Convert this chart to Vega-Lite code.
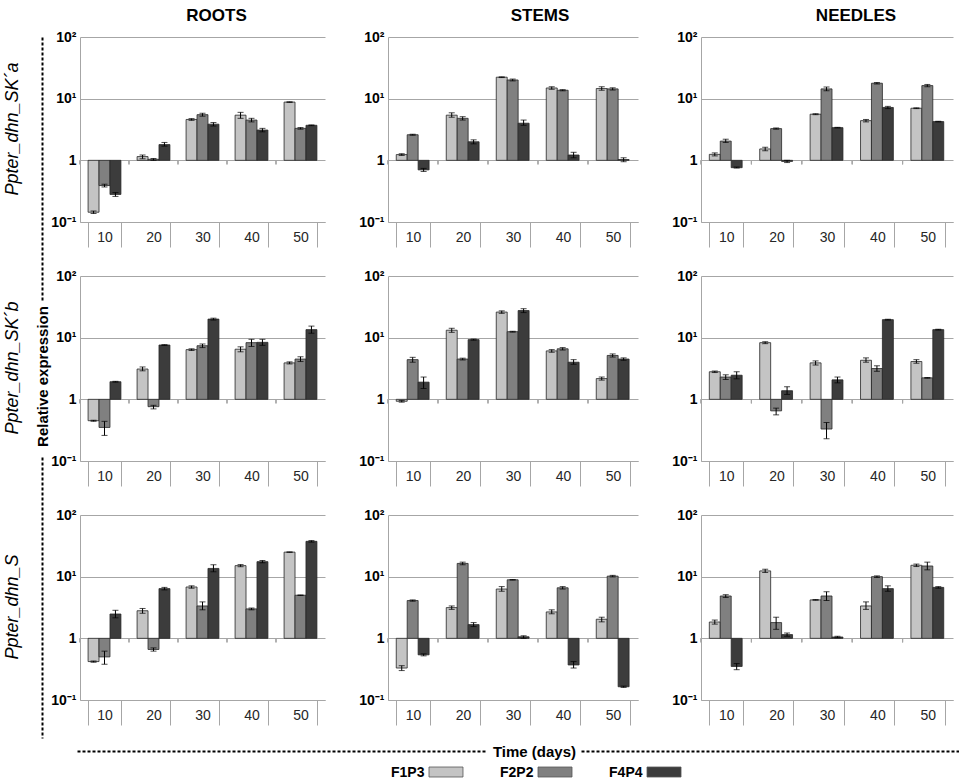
{
  "$schema": "https://vega.github.io/schema/vega-lite/v6.json",
  "padding": {"left": 3, "top": 6, "right": 0, "bottom": 0},
  "config": {
    "font": "Liberation Sans",
    "background": "white",
    "view": {"stroke": null},
    "title": {"fontSize": 17, "fontWeight": "bold", "color": "#000", "offset": 5.5},
    "axisX": {"tickBand": "extent", "tickSize": 25, "tickColor": "#a6a6a6", "domainColor": "#a6a6a6", "labelPadding": -10, "labelBaseline": "middle", "labelFontSize": 14, "labelColor": "#262626", "labelAngle": 0, "grid": false},
    "axisY": {"grid": true, "gridColor": "#a6a6a6", "domainColor": "#a6a6a6", "ticks": false, "labelFontSize": 14, "labelFontWeight": "bold", "labelColor": "#000", "labelPadding": 4}
  },
  "datasets": {
    "keys": [{"series": "F1P3"}, {"series": "F2P2"}, {"series": "F4P4"}],
    "genes": [{"gene": "Ppter_dhn_SK´a"}, {"gene": "Ppter_dhn_SK´b"}, {"gene": "Ppter_dhn_S"}],
    "expr": [
      {"gene":"a","tissue":"R","day":"10","series":"F1P3","v":0.144,"lo":0.137,"hi":0.151},
      {"gene":"a","tissue":"R","day":"10","series":"F2P2","v":0.39,"lo":0.37,"hi":0.41},
      {"gene":"a","tissue":"R","day":"10","series":"F4P4","v":0.28,"lo":0.26,"hi":0.30},
      {"gene":"a","tissue":"R","day":"20","series":"F1P3","v":1.15,"lo":1.06,"hi":1.22},
      {"gene":"a","tissue":"R","day":"20","series":"F2P2","v":1.04,"lo":1.0,"hi":1.07},
      {"gene":"a","tissue":"R","day":"20","series":"F4P4","v":1.8,"lo":1.7,"hi":1.95},
      {"gene":"a","tissue":"R","day":"30","series":"F1P3","v":4.6,"lo":4.45,"hi":4.75},
      {"gene":"a","tissue":"R","day":"30","series":"F2P2","v":5.5,"lo":5.2,"hi":5.8},
      {"gene":"a","tissue":"R","day":"30","series":"F4P4","v":3.86,"lo":3.6,"hi":4.1},
      {"gene":"a","tissue":"R","day":"40","series":"F1P3","v":5.4,"lo":4.8,"hi":6.0},
      {"gene":"a","tissue":"R","day":"40","series":"F2P2","v":4.5,"lo":4.2,"hi":4.8},
      {"gene":"a","tissue":"R","day":"40","series":"F4P4","v":3.1,"lo":2.9,"hi":3.3},
      {"gene":"a","tissue":"R","day":"50","series":"F1P3","v":8.8,"lo":8.7,"hi":8.9},
      {"gene":"a","tissue":"R","day":"50","series":"F2P2","v":3.3,"lo":3.2,"hi":3.4},
      {"gene":"a","tissue":"R","day":"50","series":"F4P4","v":3.7,"lo":3.65,"hi":3.75},
      {"gene":"a","tissue":"St","day":"10","series":"F1P3","v":1.24,"lo":1.2,"hi":1.28},
      {"gene":"a","tissue":"St","day":"10","series":"F2P2","v":2.6,"lo":2.55,"hi":2.65},
      {"gene":"a","tissue":"St","day":"10","series":"F4P4","v":0.7,"lo":0.66,"hi":0.74},
      {"gene":"a","tissue":"St","day":"20","series":"F1P3","v":5.4,"lo":5.0,"hi":5.9},
      {"gene":"a","tissue":"St","day":"20","series":"F2P2","v":4.8,"lo":4.5,"hi":5.1},
      {"gene":"a","tissue":"St","day":"20","series":"F4P4","v":2.0,"lo":1.85,"hi":2.15},
      {"gene":"a","tissue":"St","day":"30","series":"F1P3","v":22.3,"lo":22.0,"hi":22.6},
      {"gene":"a","tissue":"St","day":"30","series":"F2P2","v":20.1,"lo":19.4,"hi":20.8},
      {"gene":"a","tissue":"St","day":"30","series":"F4P4","v":4.0,"lo":3.7,"hi":4.5},
      {"gene":"a","tissue":"St","day":"40","series":"F1P3","v":14.9,"lo":14.2,"hi":15.6},
      {"gene":"a","tissue":"St","day":"40","series":"F2P2","v":13.7,"lo":13.4,"hi":14.0},
      {"gene":"a","tissue":"St","day":"40","series":"F4P4","v":1.22,"lo":1.1,"hi":1.35},
      {"gene":"a","tissue":"St","day":"50","series":"F1P3","v":14.6,"lo":13.7,"hi":15.6},
      {"gene":"a","tissue":"St","day":"50","series":"F2P2","v":14.4,"lo":13.8,"hi":15.0},
      {"gene":"a","tissue":"St","day":"50","series":"F4P4","v":1.03,"lo":0.95,"hi":1.1},
      {"gene":"a","tissue":"N","day":"10","series":"F1P3","v":1.25,"lo":1.18,"hi":1.32},
      {"gene":"a","tissue":"N","day":"10","series":"F2P2","v":2.05,"lo":1.95,"hi":2.2},
      {"gene":"a","tissue":"N","day":"10","series":"F4P4","v":0.76,"lo":0.75,"hi":0.78},
      {"gene":"a","tissue":"N","day":"20","series":"F1P3","v":1.53,"lo":1.43,"hi":1.63},
      {"gene":"a","tissue":"N","day":"20","series":"F2P2","v":3.27,"lo":3.2,"hi":3.35},
      {"gene":"a","tissue":"N","day":"20","series":"F4P4","v":0.96,"lo":0.92,"hi":1.0},
      {"gene":"a","tissue":"N","day":"30","series":"F1P3","v":5.6,"lo":5.5,"hi":5.7},
      {"gene":"a","tissue":"N","day":"30","series":"F2P2","v":14.4,"lo":13.4,"hi":15.4},
      {"gene":"a","tissue":"N","day":"30","series":"F4P4","v":3.39,"lo":3.35,"hi":3.43},
      {"gene":"a","tissue":"N","day":"40","series":"F1P3","v":4.4,"lo":4.2,"hi":4.6},
      {"gene":"a","tissue":"N","day":"40","series":"F2P2","v":17.8,"lo":17.3,"hi":18.3},
      {"gene":"a","tissue":"N","day":"40","series":"F4P4","v":7.2,"lo":6.9,"hi":7.5},
      {"gene":"a","tissue":"N","day":"50","series":"F1P3","v":7.0,"lo":6.9,"hi":7.1},
      {"gene":"a","tissue":"N","day":"50","series":"F2P2","v":16.3,"lo":15.6,"hi":17.0},
      {"gene":"a","tissue":"N","day":"50","series":"F4P4","v":4.25,"lo":4.2,"hi":4.3},
      {"gene":"b","tissue":"R","day":"10","series":"F1P3","v":0.45,"lo":0.44,"hi":0.46},
      {"gene":"b","tissue":"R","day":"10","series":"F2P2","v":0.35,"lo":0.26,"hi":0.44},
      {"gene":"b","tissue":"R","day":"10","series":"F4P4","v":1.93,"lo":1.9,"hi":1.96},
      {"gene":"b","tissue":"R","day":"20","series":"F1P3","v":3.1,"lo":2.9,"hi":3.35},
      {"gene":"b","tissue":"R","day":"20","series":"F2P2","v":0.76,"lo":0.7,"hi":0.8},
      {"gene":"b","tissue":"R","day":"20","series":"F4P4","v":7.6,"lo":7.5,"hi":7.7},
      {"gene":"b","tissue":"R","day":"30","series":"F1P3","v":6.4,"lo":6.2,"hi":6.6},
      {"gene":"b","tissue":"R","day":"30","series":"F2P2","v":7.4,"lo":6.9,"hi":7.9},
      {"gene":"b","tissue":"R","day":"30","series":"F4P4","v":20,"lo":19.3,"hi":20.7},
      {"gene":"b","tissue":"R","day":"40","series":"F1P3","v":6.5,"lo":5.9,"hi":7.1},
      {"gene":"b","tissue":"R","day":"40","series":"F2P2","v":8.3,"lo":7.2,"hi":9.4},
      {"gene":"b","tissue":"R","day":"40","series":"F4P4","v":8.4,"lo":7.5,"hi":9.4},
      {"gene":"b","tissue":"R","day":"50","series":"F1P3","v":3.9,"lo":3.75,"hi":4.05},
      {"gene":"b","tissue":"R","day":"50","series":"F2P2","v":4.5,"lo":4.1,"hi":4.9},
      {"gene":"b","tissue":"R","day":"50","series":"F4P4","v":13.5,"lo":11.8,"hi":15.4},
      {"gene":"b","tissue":"St","day":"10","series":"F1P3","v":0.93,"lo":0.9,"hi":0.96},
      {"gene":"b","tissue":"St","day":"10","series":"F2P2","v":4.4,"lo":4.0,"hi":4.8},
      {"gene":"b","tissue":"St","day":"10","series":"F4P4","v":1.9,"lo":1.5,"hi":2.3},
      {"gene":"b","tissue":"St","day":"20","series":"F1P3","v":13.2,"lo":12.2,"hi":14.2},
      {"gene":"b","tissue":"St","day":"20","series":"F2P2","v":4.5,"lo":4.35,"hi":4.65},
      {"gene":"b","tissue":"St","day":"20","series":"F4P4","v":9.3,"lo":9.1,"hi":9.5},
      {"gene":"b","tissue":"St","day":"30","series":"F1P3","v":26,"lo":24.8,"hi":27.2},
      {"gene":"b","tissue":"St","day":"30","series":"F2P2","v":12.5,"lo":12.3,"hi":12.7},
      {"gene":"b","tissue":"St","day":"30","series":"F4P4","v":27.5,"lo":25.5,"hi":29.5},
      {"gene":"b","tissue":"St","day":"40","series":"F1P3","v":6.1,"lo":5.8,"hi":6.4},
      {"gene":"b","tissue":"St","day":"40","series":"F2P2","v":6.6,"lo":6.3,"hi":6.9},
      {"gene":"b","tissue":"St","day":"40","series":"F4P4","v":4.0,"lo":3.7,"hi":4.4},
      {"gene":"b","tissue":"St","day":"50","series":"F1P3","v":2.17,"lo":2.05,"hi":2.3},
      {"gene":"b","tissue":"St","day":"50","series":"F2P2","v":5.15,"lo":4.85,"hi":5.45},
      {"gene":"b","tissue":"St","day":"50","series":"F4P4","v":4.5,"lo":4.3,"hi":4.7},
      {"gene":"b","tissue":"N","day":"10","series":"F1P3","v":2.8,"lo":2.72,"hi":2.88},
      {"gene":"b","tissue":"N","day":"10","series":"F2P2","v":2.3,"lo":2.1,"hi":2.5},
      {"gene":"b","tissue":"N","day":"10","series":"F4P4","v":2.46,"lo":2.15,"hi":2.8},
      {"gene":"b","tissue":"N","day":"20","series":"F1P3","v":8.3,"lo":8.0,"hi":8.6},
      {"gene":"b","tissue":"N","day":"20","series":"F2P2","v":0.65,"lo":0.56,"hi":0.72},
      {"gene":"b","tissue":"N","day":"20","series":"F4P4","v":1.38,"lo":1.2,"hi":1.6},
      {"gene":"b","tissue":"N","day":"30","series":"F1P3","v":3.9,"lo":3.6,"hi":4.2},
      {"gene":"b","tissue":"N","day":"30","series":"F2P2","v":0.33,"lo":0.23,"hi":0.42},
      {"gene":"b","tissue":"N","day":"30","series":"F4P4","v":2.07,"lo":1.85,"hi":2.3},
      {"gene":"b","tissue":"N","day":"40","series":"F1P3","v":4.3,"lo":4.0,"hi":4.7},
      {"gene":"b","tissue":"N","day":"40","series":"F2P2","v":3.16,"lo":2.85,"hi":3.5},
      {"gene":"b","tissue":"N","day":"40","series":"F4P4","v":19.6,"lo":19.3,"hi":19.9},
      {"gene":"b","tissue":"N","day":"50","series":"F1P3","v":4.1,"lo":3.85,"hi":4.4},
      {"gene":"b","tissue":"N","day":"50","series":"F2P2","v":2.23,"lo":2.2,"hi":2.26},
      {"gene":"b","tissue":"N","day":"50","series":"F4P4","v":13.5,"lo":13.3,"hi":13.7},
      {"gene":"S","tissue":"R","day":"10","series":"F1P3","v":0.42,"lo":0.41,"hi":0.43},
      {"gene":"S","tissue":"R","day":"10","series":"F2P2","v":0.5,"lo":0.38,"hi":0.62},
      {"gene":"S","tissue":"R","day":"10","series":"F4P4","v":2.48,"lo":2.15,"hi":2.85},
      {"gene":"S","tissue":"R","day":"20","series":"F1P3","v":2.8,"lo":2.55,"hi":3.05},
      {"gene":"S","tissue":"R","day":"20","series":"F2P2","v":0.66,"lo":0.62,"hi":0.7},
      {"gene":"S","tissue":"R","day":"20","series":"F4P4","v":6.4,"lo":6.1,"hi":6.7},
      {"gene":"S","tissue":"R","day":"30","series":"F1P3","v":6.8,"lo":6.5,"hi":7.1},
      {"gene":"S","tissue":"R","day":"30","series":"F2P2","v":3.35,"lo":2.9,"hi":3.9},
      {"gene":"S","tissue":"R","day":"30","series":"F4P4","v":13.6,"lo":12.0,"hi":15.6},
      {"gene":"S","tissue":"R","day":"40","series":"F1P3","v":15.1,"lo":14.5,"hi":15.7},
      {"gene":"S","tissue":"R","day":"40","series":"F2P2","v":3.0,"lo":2.9,"hi":3.1},
      {"gene":"S","tissue":"R","day":"40","series":"F4P4","v":17.5,"lo":16.8,"hi":18.3},
      {"gene":"S","tissue":"R","day":"50","series":"F1P3","v":25,"lo":24.8,"hi":25.2},
      {"gene":"S","tissue":"R","day":"50","series":"F2P2","v":5.0,"lo":4.95,"hi":5.05},
      {"gene":"S","tissue":"R","day":"50","series":"F4P4","v":37.4,"lo":36.3,"hi":38.5},
      {"gene":"S","tissue":"St","day":"10","series":"F1P3","v":0.33,"lo":0.3,"hi":0.36},
      {"gene":"S","tissue":"St","day":"10","series":"F2P2","v":4.1,"lo":4.0,"hi":4.2},
      {"gene":"S","tissue":"St","day":"10","series":"F4P4","v":0.54,"lo":0.52,"hi":0.56},
      {"gene":"S","tissue":"St","day":"20","series":"F1P3","v":3.15,"lo":2.95,"hi":3.35},
      {"gene":"S","tissue":"St","day":"20","series":"F2P2","v":16.4,"lo":15.6,"hi":17.2},
      {"gene":"S","tissue":"St","day":"20","series":"F4P4","v":1.67,"lo":1.55,"hi":1.8},
      {"gene":"S","tissue":"St","day":"30","series":"F1P3","v":6.3,"lo":5.8,"hi":6.9},
      {"gene":"S","tissue":"St","day":"30","series":"F2P2","v":8.9,"lo":8.8,"hi":9.0},
      {"gene":"S","tissue":"St","day":"30","series":"F4P4","v":1.06,"lo":1.0,"hi":1.1},
      {"gene":"S","tissue":"St","day":"40","series":"F1P3","v":2.68,"lo":2.5,"hi":2.9},
      {"gene":"S","tissue":"St","day":"40","series":"F2P2","v":6.6,"lo":6.3,"hi":6.9},
      {"gene":"S","tissue":"St","day":"40","series":"F4P4","v":0.37,"lo":0.33,"hi":0.42},
      {"gene":"S","tissue":"St","day":"50","series":"F1P3","v":2.04,"lo":1.85,"hi":2.2},
      {"gene":"S","tissue":"St","day":"50","series":"F2P2","v":10.2,"lo":9.9,"hi":10.5},
      {"gene":"S","tissue":"St","day":"50","series":"F4P4","v":0.164,"lo":0.16,"hi":0.168},
      {"gene":"S","tissue":"N","day":"10","series":"F1P3","v":1.84,"lo":1.7,"hi":1.98},
      {"gene":"S","tissue":"N","day":"10","series":"F2P2","v":4.86,"lo":4.6,"hi":5.1},
      {"gene":"S","tissue":"N","day":"10","series":"F4P4","v":0.35,"lo":0.31,"hi":0.39},
      {"gene":"S","tissue":"N","day":"20","series":"F1P3","v":12.4,"lo":11.7,"hi":13.2},
      {"gene":"S","tissue":"N","day":"20","series":"F2P2","v":1.8,"lo":1.4,"hi":2.2},
      {"gene":"S","tissue":"N","day":"20","series":"F4P4","v":1.15,"lo":1.08,"hi":1.22},
      {"gene":"S","tissue":"N","day":"30","series":"F1P3","v":4.2,"lo":4.15,"hi":4.25},
      {"gene":"S","tissue":"N","day":"30","series":"F2P2","v":4.86,"lo":4.1,"hi":5.7},
      {"gene":"S","tissue":"N","day":"30","series":"F4P4","v":1.05,"lo":1.02,"hi":1.08},
      {"gene":"S","tissue":"N","day":"40","series":"F1P3","v":3.35,"lo":2.95,"hi":3.9},
      {"gene":"S","tissue":"N","day":"40","series":"F2P2","v":10.0,"lo":9.7,"hi":10.3},
      {"gene":"S","tissue":"N","day":"40","series":"F4P4","v":6.4,"lo":5.8,"hi":7.1},
      {"gene":"S","tissue":"N","day":"50","series":"F1P3","v":15.3,"lo":14.6,"hi":16.0},
      {"gene":"S","tissue":"N","day":"50","series":"F2P2","v":14.9,"lo":12.9,"hi":17.2},
      {"gene":"S","tissue":"N","day":"50","series":"F4P4","v":6.7,"lo":6.5,"hi":6.9}
    ]
  },
  "spacing": 6,
  "vconcat": [
    {
      "spacing": 0,
      "hconcat": [
        {
          "width": 1,
          "height": 701,
          "data": {"name": "genes"},
          "mark": {"type": "point", "opacity": 0},
          "encoding": {
            "y": {"field": "gene", "type": "nominal", "sort": null,
                  "scale": {"type": "point", "padding": 0.4665},
                  "axis": {
                    "ticks": false, "tickSize": 0, "grid": false,
                    "labelAngle": -90, "labelAlign": "center", "labelBaseline": "middle", "labelPadding": 30, "labelOffset": -20,
                    "labelFontSize": 18, "labelFontStyle": "italic", "labelFontWeight": "normal", "labelColor": "#000", "labelLimit": 300,
                    "domainColor": "#000", "domainWidth": 2,
                    "domainDash": [3,2,3,2,3,2,3,2,3,2,3,2,3,2,3,2,3,2,3,2, 3,2,3,2,3,2,3,2,3,2,3,2,3,2,3,2,3,2,3,2, 3,2,3,2,3,2,3,2,3,2,3,2,3,2,3,2,3,2,3,2, 3,2,3,2,3,2,3,2,3,2,3,2,3,2,3,2,3,2,3,2, 3,2,3,2,3,2,3,2,3,2,3,2,3,2,3,2,3,2,3,2, 3,2,3,2,3,2, 0,155, 3,2,3,2,3,2,3,2,3,2,3,2,3,2,3,2,3,2,3,2, 3,2,3,2,3,2,3,2,3,2,3,2,3,2,3,2,3,2,3,2, 3,2,3,2,3,2,3,2,3,2,3,2,3,2,3,2,3,2,3,2, 3,2,3,2,3,2,3,2,3,2,3,2,3,2,3,2,3,2,3,2, 3,2,3,2,3,2,3,2,3,2,3,2,3,2,3,2,3,2,3,2, 3,2,3,2,3,2,3,2,3,2,3,2,3,2],
                    "title": "Relative expression", "titleX": 0, "titleY": 339, "titleAngle": -90,
                    "titleAlign": "center", "titleBaseline": "middle",
                    "titleFontSize": 15, "titleFontWeight": "bold", "titleColor": "#000"
                  }}
          }
        },
        {
          "columns": 3,
          "bounds": "flush",
          "spacing": {"row": 54, "column": 63},
          "concat": [
            {
              "width": 245, "height": 185,
              "title": {"text": "ROOTS", "frame": "group", "dx": 14},
              "data": {"name": "expr"},
              "transform": [{"filter": "datum.gene == 'a' && datum.tissue == 'R'"}],
              "encoding": {
                "x": {"field": "day", "type": "ordinal", "scale": {"paddingInner": 0.33, "paddingOuter": 0.165}, "axis": {"title": null}}
              },
              "layer": [
                {"mark": {"type": "bar", "stroke": "#262626", "strokeWidth": 0.8},
                 "encoding": {
                   "xOffset": {"field": "series", "type": "nominal", "sort": ["F1P3", "F2P2", "F4P4"], "scale": {"paddingInner": 0, "paddingOuter": 0}},
                   "y": {"field": "v", "type": "quantitative", "scale": {"type": "log", "domain": [0.1, 100], "nice": false},
                         "axis": {"title": null, "values": [0.1, 1, 10, 100], "labelExpr": "datum.value >= 100 ? '10²' : datum.value >= 10 ? '10¹' : datum.value >= 1 ? '1' : '10⁻¹'"}},
                   "y2": {"datum": 1},
                   "fill": {"field": "series", "type": "nominal", "scale": {"domain": ["F1P3", "F2P2", "F4P4"], "range": ["#c4c4c4", "#808080", "#3c3c3c"]}, "legend": null}
                 }},
                {"mark": {"type": "rule", "color": "#000", "strokeWidth": 1},
                 "encoding": {"xOffset": {"field": "series", "type": "nominal", "sort": ["F1P3", "F2P2", "F4P4"]}, "y": {"field": "lo", "type": "quantitative", "scale": {"type": "log", "domain": [0.1, 100], "nice": false}}, "y2": {"field": "hi"}}},
                {"mark": {"type": "tick", "color": "#000", "size": 6, "thickness": 1},
                 "encoding": {"xOffset": {"field": "series", "type": "nominal", "sort": ["F1P3", "F2P2", "F4P4"]}, "y": {"field": "lo", "type": "quantitative", "scale": {"type": "log", "domain": [0.1, 100], "nice": false}}}},
                {"mark": {"type": "tick", "color": "#000", "size": 6, "thickness": 1},
                 "encoding": {"xOffset": {"field": "series", "type": "nominal", "sort": ["F1P3", "F2P2", "F4P4"]}, "y": {"field": "hi", "type": "quantitative", "scale": {"type": "log", "domain": [0.1, 100], "nice": false}}}},
                {"mark": {"type": "rule", "color": "#a6a6a6", "strokeWidth": 1},
                 "encoding": {"x": {"field": "day", "type": "ordinal", "bandPosition": -0.2463}, "y": {"datum": 1, "type": "quantitative", "scale": {"type": "log", "domain": [0.1, 100], "nice": false}}, "y2": {"datum": 0.86}}}
              ]
            },
            {
              "width": 250, "height": 185,
              "title": {"text": "STEMS", "frame": "group", "dx": 27},
              "data": {"name": "expr"},
              "transform": [{"filter": "datum.gene == 'a' && datum.tissue == 'St'"}],
              "encoding": {
                "x": {"field": "day", "type": "ordinal", "scale": {"paddingInner": 0.33, "paddingOuter": 0.165}, "axis": {"title": null}}
              },
              "layer": [
                {"mark": {"type": "bar", "stroke": "#262626", "strokeWidth": 0.8},
                 "encoding": {
                   "xOffset": {"field": "series", "type": "nominal", "sort": ["F1P3", "F2P2", "F4P4"], "scale": {"paddingInner": 0, "paddingOuter": 0}},
                   "y": {"field": "v", "type": "quantitative", "scale": {"type": "log", "domain": [0.1, 100], "nice": false},
                         "axis": {"title": null, "values": [0.1, 1, 10, 100], "labelExpr": "datum.value >= 100 ? '10²' : datum.value >= 10 ? '10¹' : datum.value >= 1 ? '1' : '10⁻¹'"}},
                   "y2": {"datum": 1},
                   "fill": {"field": "series", "type": "nominal", "scale": {"domain": ["F1P3", "F2P2", "F4P4"], "range": ["#c4c4c4", "#808080", "#3c3c3c"]}, "legend": null}
                 }},
                {"mark": {"type": "rule", "color": "#000", "strokeWidth": 1},
                 "encoding": {"xOffset": {"field": "series", "type": "nominal", "sort": ["F1P3", "F2P2", "F4P4"]}, "y": {"field": "lo", "type": "quantitative", "scale": {"type": "log", "domain": [0.1, 100], "nice": false}}, "y2": {"field": "hi"}}},
                {"mark": {"type": "tick", "color": "#000", "size": 6, "thickness": 1},
                 "encoding": {"xOffset": {"field": "series", "type": "nominal", "sort": ["F1P3", "F2P2", "F4P4"]}, "y": {"field": "lo", "type": "quantitative", "scale": {"type": "log", "domain": [0.1, 100], "nice": false}}}},
                {"mark": {"type": "tick", "color": "#000", "size": 6, "thickness": 1},
                 "encoding": {"xOffset": {"field": "series", "type": "nominal", "sort": ["F1P3", "F2P2", "F4P4"]}, "y": {"field": "hi", "type": "quantitative", "scale": {"type": "log", "domain": [0.1, 100], "nice": false}}}},
                {"mark": {"type": "rule", "color": "#a6a6a6", "strokeWidth": 1},
                 "encoding": {"x": {"field": "day", "type": "ordinal", "bandPosition": -0.2463}, "y": {"datum": 1, "type": "quantitative", "scale": {"type": "log", "domain": [0.1, 100], "nice": false}}, "y2": {"datum": 0.86}}}
              ]
            },
            {
              "width": 252, "height": 185,
              "title": {"text": "NEEDLES", "frame": "group", "dx": 29},
              "data": {"name": "expr"},
              "transform": [{"filter": "datum.gene == 'a' && datum.tissue == 'N'"}],
              "encoding": {
                "x": {"field": "day", "type": "ordinal", "scale": {"paddingInner": 0.33, "paddingOuter": 0.165}, "axis": {"title": null}}
              },
              "layer": [
                {"mark": {"type": "bar", "stroke": "#262626", "strokeWidth": 0.8},
                 "encoding": {
                   "xOffset": {"field": "series", "type": "nominal", "sort": ["F1P3", "F2P2", "F4P4"], "scale": {"paddingInner": 0, "paddingOuter": 0}},
                   "y": {"field": "v", "type": "quantitative", "scale": {"type": "log", "domain": [0.1, 100], "nice": false},
                         "axis": {"title": null, "values": [0.1, 1, 10, 100], "labelExpr": "datum.value >= 100 ? '10²' : datum.value >= 10 ? '10¹' : datum.value >= 1 ? '1' : '10⁻¹'"}},
                   "y2": {"datum": 1},
                   "fill": {"field": "series", "type": "nominal", "scale": {"domain": ["F1P3", "F2P2", "F4P4"], "range": ["#c4c4c4", "#808080", "#3c3c3c"]}, "legend": null}
                 }},
                {"mark": {"type": "rule", "color": "#000", "strokeWidth": 1},
                 "encoding": {"xOffset": {"field": "series", "type": "nominal", "sort": ["F1P3", "F2P2", "F4P4"]}, "y": {"field": "lo", "type": "quantitative", "scale": {"type": "log", "domain": [0.1, 100], "nice": false}}, "y2": {"field": "hi"}}},
                {"mark": {"type": "tick", "color": "#000", "size": 6, "thickness": 1},
                 "encoding": {"xOffset": {"field": "series", "type": "nominal", "sort": ["F1P3", "F2P2", "F4P4"]}, "y": {"field": "lo", "type": "quantitative", "scale": {"type": "log", "domain": [0.1, 100], "nice": false}}}},
                {"mark": {"type": "tick", "color": "#000", "size": 6, "thickness": 1},
                 "encoding": {"xOffset": {"field": "series", "type": "nominal", "sort": ["F1P3", "F2P2", "F4P4"]}, "y": {"field": "hi", "type": "quantitative", "scale": {"type": "log", "domain": [0.1, 100], "nice": false}}}},
                {"mark": {"type": "rule", "color": "#a6a6a6", "strokeWidth": 1},
                 "encoding": {"x": {"field": "day", "type": "ordinal", "bandPosition": -0.2463}, "y": {"datum": 1, "type": "quantitative", "scale": {"type": "log", "domain": [0.1, 100], "nice": false}}, "y2": {"datum": 0.86}}}
              ]
            },
            {
              "width": 245, "height": 185,
              "data": {"name": "expr"},
              "transform": [{"filter": "datum.gene == 'b' && datum.tissue == 'R'"}],
              "encoding": {
                "x": {"field": "day", "type": "ordinal", "scale": {"paddingInner": 0.33, "paddingOuter": 0.165}, "axis": {"title": null}}
              },
              "layer": [
                {"mark": {"type": "bar", "stroke": "#262626", "strokeWidth": 0.8},
                 "encoding": {
                   "xOffset": {"field": "series", "type": "nominal", "sort": ["F1P3", "F2P2", "F4P4"], "scale": {"paddingInner": 0, "paddingOuter": 0}},
                   "y": {"field": "v", "type": "quantitative", "scale": {"type": "log", "domain": [0.1, 100], "nice": false},
                         "axis": {"title": null, "values": [0.1, 1, 10, 100], "labelExpr": "datum.value >= 100 ? '10²' : datum.value >= 10 ? '10¹' : datum.value >= 1 ? '1' : '10⁻¹'"}},
                   "y2": {"datum": 1},
                   "fill": {"field": "series", "type": "nominal", "scale": {"domain": ["F1P3", "F2P2", "F4P4"], "range": ["#c4c4c4", "#808080", "#3c3c3c"]}, "legend": null}
                 }},
                {"mark": {"type": "rule", "color": "#000", "strokeWidth": 1},
                 "encoding": {"xOffset": {"field": "series", "type": "nominal", "sort": ["F1P3", "F2P2", "F4P4"]}, "y": {"field": "lo", "type": "quantitative", "scale": {"type": "log", "domain": [0.1, 100], "nice": false}}, "y2": {"field": "hi"}}},
                {"mark": {"type": "tick", "color": "#000", "size": 6, "thickness": 1},
                 "encoding": {"xOffset": {"field": "series", "type": "nominal", "sort": ["F1P3", "F2P2", "F4P4"]}, "y": {"field": "lo", "type": "quantitative", "scale": {"type": "log", "domain": [0.1, 100], "nice": false}}}},
                {"mark": {"type": "tick", "color": "#000", "size": 6, "thickness": 1},
                 "encoding": {"xOffset": {"field": "series", "type": "nominal", "sort": ["F1P3", "F2P2", "F4P4"]}, "y": {"field": "hi", "type": "quantitative", "scale": {"type": "log", "domain": [0.1, 100], "nice": false}}}},
                {"mark": {"type": "rule", "color": "#a6a6a6", "strokeWidth": 1},
                 "encoding": {"x": {"field": "day", "type": "ordinal", "bandPosition": -0.2463}, "y": {"datum": 1, "type": "quantitative", "scale": {"type": "log", "domain": [0.1, 100], "nice": false}}, "y2": {"datum": 0.86}}}
              ]
            },
            {
              "width": 250, "height": 185,
              "data": {"name": "expr"},
              "transform": [{"filter": "datum.gene == 'b' && datum.tissue == 'St'"}],
              "encoding": {
                "x": {"field": "day", "type": "ordinal", "scale": {"paddingInner": 0.33, "paddingOuter": 0.165}, "axis": {"title": null}}
              },
              "layer": [
                {"mark": {"type": "bar", "stroke": "#262626", "strokeWidth": 0.8},
                 "encoding": {
                   "xOffset": {"field": "series", "type": "nominal", "sort": ["F1P3", "F2P2", "F4P4"], "scale": {"paddingInner": 0, "paddingOuter": 0}},
                   "y": {"field": "v", "type": "quantitative", "scale": {"type": "log", "domain": [0.1, 100], "nice": false},
                         "axis": {"title": null, "values": [0.1, 1, 10, 100], "labelExpr": "datum.value >= 100 ? '10²' : datum.value >= 10 ? '10¹' : datum.value >= 1 ? '1' : '10⁻¹'"}},
                   "y2": {"datum": 1},
                   "fill": {"field": "series", "type": "nominal", "scale": {"domain": ["F1P3", "F2P2", "F4P4"], "range": ["#c4c4c4", "#808080", "#3c3c3c"]}, "legend": null}
                 }},
                {"mark": {"type": "rule", "color": "#000", "strokeWidth": 1},
                 "encoding": {"xOffset": {"field": "series", "type": "nominal", "sort": ["F1P3", "F2P2", "F4P4"]}, "y": {"field": "lo", "type": "quantitative", "scale": {"type": "log", "domain": [0.1, 100], "nice": false}}, "y2": {"field": "hi"}}},
                {"mark": {"type": "tick", "color": "#000", "size": 6, "thickness": 1},
                 "encoding": {"xOffset": {"field": "series", "type": "nominal", "sort": ["F1P3", "F2P2", "F4P4"]}, "y": {"field": "lo", "type": "quantitative", "scale": {"type": "log", "domain": [0.1, 100], "nice": false}}}},
                {"mark": {"type": "tick", "color": "#000", "size": 6, "thickness": 1},
                 "encoding": {"xOffset": {"field": "series", "type": "nominal", "sort": ["F1P3", "F2P2", "F4P4"]}, "y": {"field": "hi", "type": "quantitative", "scale": {"type": "log", "domain": [0.1, 100], "nice": false}}}},
                {"mark": {"type": "rule", "color": "#a6a6a6", "strokeWidth": 1},
                 "encoding": {"x": {"field": "day", "type": "ordinal", "bandPosition": -0.2463}, "y": {"datum": 1, "type": "quantitative", "scale": {"type": "log", "domain": [0.1, 100], "nice": false}}, "y2": {"datum": 0.86}}}
              ]
            },
            {
              "width": 252, "height": 185,
              "data": {"name": "expr"},
              "transform": [{"filter": "datum.gene == 'b' && datum.tissue == 'N'"}],
              "encoding": {
                "x": {"field": "day", "type": "ordinal", "scale": {"paddingInner": 0.33, "paddingOuter": 0.165}, "axis": {"title": null}}
              },
              "layer": [
                {"mark": {"type": "bar", "stroke": "#262626", "strokeWidth": 0.8},
                 "encoding": {
                   "xOffset": {"field": "series", "type": "nominal", "sort": ["F1P3", "F2P2", "F4P4"], "scale": {"paddingInner": 0, "paddingOuter": 0}},
                   "y": {"field": "v", "type": "quantitative", "scale": {"type": "log", "domain": [0.1, 100], "nice": false},
                         "axis": {"title": null, "values": [0.1, 1, 10, 100], "labelExpr": "datum.value >= 100 ? '10²' : datum.value >= 10 ? '10¹' : datum.value >= 1 ? '1' : '10⁻¹'"}},
                   "y2": {"datum": 1},
                   "fill": {"field": "series", "type": "nominal", "scale": {"domain": ["F1P3", "F2P2", "F4P4"], "range": ["#c4c4c4", "#808080", "#3c3c3c"]}, "legend": null}
                 }},
                {"mark": {"type": "rule", "color": "#000", "strokeWidth": 1},
                 "encoding": {"xOffset": {"field": "series", "type": "nominal", "sort": ["F1P3", "F2P2", "F4P4"]}, "y": {"field": "lo", "type": "quantitative", "scale": {"type": "log", "domain": [0.1, 100], "nice": false}}, "y2": {"field": "hi"}}},
                {"mark": {"type": "tick", "color": "#000", "size": 6, "thickness": 1},
                 "encoding": {"xOffset": {"field": "series", "type": "nominal", "sort": ["F1P3", "F2P2", "F4P4"]}, "y": {"field": "lo", "type": "quantitative", "scale": {"type": "log", "domain": [0.1, 100], "nice": false}}}},
                {"mark": {"type": "tick", "color": "#000", "size": 6, "thickness": 1},
                 "encoding": {"xOffset": {"field": "series", "type": "nominal", "sort": ["F1P3", "F2P2", "F4P4"]}, "y": {"field": "hi", "type": "quantitative", "scale": {"type": "log", "domain": [0.1, 100], "nice": false}}}},
                {"mark": {"type": "rule", "color": "#a6a6a6", "strokeWidth": 1},
                 "encoding": {"x": {"field": "day", "type": "ordinal", "bandPosition": -0.2463}, "y": {"datum": 1, "type": "quantitative", "scale": {"type": "log", "domain": [0.1, 100], "nice": false}}, "y2": {"datum": 0.86}}}
              ]
            },
            {
              "width": 245, "height": 185,
              "data": {"name": "expr"},
              "transform": [{"filter": "datum.gene == 'S' && datum.tissue == 'R'"}],
              "encoding": {
                "x": {"field": "day", "type": "ordinal", "scale": {"paddingInner": 0.33, "paddingOuter": 0.165}, "axis": {"title": null}}
              },
              "layer": [
                {"mark": {"type": "bar", "stroke": "#262626", "strokeWidth": 0.8},
                 "encoding": {
                   "xOffset": {"field": "series", "type": "nominal", "sort": ["F1P3", "F2P2", "F4P4"], "scale": {"paddingInner": 0, "paddingOuter": 0}},
                   "y": {"field": "v", "type": "quantitative", "scale": {"type": "log", "domain": [0.1, 100], "nice": false},
                         "axis": {"title": null, "values": [0.1, 1, 10, 100], "labelExpr": "datum.value >= 100 ? '10²' : datum.value >= 10 ? '10¹' : datum.value >= 1 ? '1' : '10⁻¹'"}},
                   "y2": {"datum": 1},
                   "fill": {"field": "series", "type": "nominal", "scale": {"domain": ["F1P3", "F2P2", "F4P4"], "range": ["#c4c4c4", "#808080", "#3c3c3c"]}, "legend": null}
                 }},
                {"mark": {"type": "rule", "color": "#000", "strokeWidth": 1},
                 "encoding": {"xOffset": {"field": "series", "type": "nominal", "sort": ["F1P3", "F2P2", "F4P4"]}, "y": {"field": "lo", "type": "quantitative", "scale": {"type": "log", "domain": [0.1, 100], "nice": false}}, "y2": {"field": "hi"}}},
                {"mark": {"type": "tick", "color": "#000", "size": 6, "thickness": 1},
                 "encoding": {"xOffset": {"field": "series", "type": "nominal", "sort": ["F1P3", "F2P2", "F4P4"]}, "y": {"field": "lo", "type": "quantitative", "scale": {"type": "log", "domain": [0.1, 100], "nice": false}}}},
                {"mark": {"type": "tick", "color": "#000", "size": 6, "thickness": 1},
                 "encoding": {"xOffset": {"field": "series", "type": "nominal", "sort": ["F1P3", "F2P2", "F4P4"]}, "y": {"field": "hi", "type": "quantitative", "scale": {"type": "log", "domain": [0.1, 100], "nice": false}}}},
                {"mark": {"type": "rule", "color": "#a6a6a6", "strokeWidth": 1},
                 "encoding": {"x": {"field": "day", "type": "ordinal", "bandPosition": -0.2463}, "y": {"datum": 1, "type": "quantitative", "scale": {"type": "log", "domain": [0.1, 100], "nice": false}}, "y2": {"datum": 0.86}}}
              ]
            },
            {
              "width": 250, "height": 185,
              "data": {"name": "expr"},
              "transform": [{"filter": "datum.gene == 'S' && datum.tissue == 'St'"}],
              "encoding": {
                "x": {"field": "day", "type": "ordinal", "scale": {"paddingInner": 0.33, "paddingOuter": 0.165}, "axis": {"title": null}}
              },
              "layer": [
                {"mark": {"type": "bar", "stroke": "#262626", "strokeWidth": 0.8},
                 "encoding": {
                   "xOffset": {"field": "series", "type": "nominal", "sort": ["F1P3", "F2P2", "F4P4"], "scale": {"paddingInner": 0, "paddingOuter": 0}},
                   "y": {"field": "v", "type": "quantitative", "scale": {"type": "log", "domain": [0.1, 100], "nice": false},
                         "axis": {"title": null, "values": [0.1, 1, 10, 100], "labelExpr": "datum.value >= 100 ? '10²' : datum.value >= 10 ? '10¹' : datum.value >= 1 ? '1' : '10⁻¹'"}},
                   "y2": {"datum": 1},
                   "fill": {"field": "series", "type": "nominal", "scale": {"domain": ["F1P3", "F2P2", "F4P4"], "range": ["#c4c4c4", "#808080", "#3c3c3c"]}, "legend": null}
                 }},
                {"mark": {"type": "rule", "color": "#000", "strokeWidth": 1},
                 "encoding": {"xOffset": {"field": "series", "type": "nominal", "sort": ["F1P3", "F2P2", "F4P4"]}, "y": {"field": "lo", "type": "quantitative", "scale": {"type": "log", "domain": [0.1, 100], "nice": false}}, "y2": {"field": "hi"}}},
                {"mark": {"type": "tick", "color": "#000", "size": 6, "thickness": 1},
                 "encoding": {"xOffset": {"field": "series", "type": "nominal", "sort": ["F1P3", "F2P2", "F4P4"]}, "y": {"field": "lo", "type": "quantitative", "scale": {"type": "log", "domain": [0.1, 100], "nice": false}}}},
                {"mark": {"type": "tick", "color": "#000", "size": 6, "thickness": 1},
                 "encoding": {"xOffset": {"field": "series", "type": "nominal", "sort": ["F1P3", "F2P2", "F4P4"]}, "y": {"field": "hi", "type": "quantitative", "scale": {"type": "log", "domain": [0.1, 100], "nice": false}}}},
                {"mark": {"type": "rule", "color": "#a6a6a6", "strokeWidth": 1},
                 "encoding": {"x": {"field": "day", "type": "ordinal", "bandPosition": -0.2463}, "y": {"datum": 1, "type": "quantitative", "scale": {"type": "log", "domain": [0.1, 100], "nice": false}}, "y2": {"datum": 0.86}}}
              ]
            },
            {
              "width": 252, "height": 185,
              "data": {"name": "expr"},
              "transform": [{"filter": "datum.gene == 'S' && datum.tissue == 'N'"}],
              "encoding": {
                "x": {"field": "day", "type": "ordinal", "scale": {"paddingInner": 0.33, "paddingOuter": 0.165}, "axis": {"title": null}}
              },
              "layer": [
                {"mark": {"type": "bar", "stroke": "#262626", "strokeWidth": 0.8},
                 "encoding": {
                   "xOffset": {"field": "series", "type": "nominal", "sort": ["F1P3", "F2P2", "F4P4"], "scale": {"paddingInner": 0, "paddingOuter": 0}},
                   "y": {"field": "v", "type": "quantitative", "scale": {"type": "log", "domain": [0.1, 100], "nice": false},
                         "axis": {"title": null, "values": [0.1, 1, 10, 100], "labelExpr": "datum.value >= 100 ? '10²' : datum.value >= 10 ? '10¹' : datum.value >= 1 ? '1' : '10⁻¹'"}},
                   "y2": {"datum": 1},
                   "fill": {"field": "series", "type": "nominal", "scale": {"domain": ["F1P3", "F2P2", "F4P4"], "range": ["#c4c4c4", "#808080", "#3c3c3c"]}, "legend": null}
                 }},
                {"mark": {"type": "rule", "color": "#000", "strokeWidth": 1},
                 "encoding": {"xOffset": {"field": "series", "type": "nominal", "sort": ["F1P3", "F2P2", "F4P4"]}, "y": {"field": "lo", "type": "quantitative", "scale": {"type": "log", "domain": [0.1, 100], "nice": false}}, "y2": {"field": "hi"}}},
                {"mark": {"type": "tick", "color": "#000", "size": 6, "thickness": 1},
                 "encoding": {"xOffset": {"field": "series", "type": "nominal", "sort": ["F1P3", "F2P2", "F4P4"]}, "y": {"field": "lo", "type": "quantitative", "scale": {"type": "log", "domain": [0.1, 100], "nice": false}}}},
                {"mark": {"type": "tick", "color": "#000", "size": 6, "thickness": 1},
                 "encoding": {"xOffset": {"field": "series", "type": "nominal", "sort": ["F1P3", "F2P2", "F4P4"]}, "y": {"field": "hi", "type": "quantitative", "scale": {"type": "log", "domain": [0.1, 100], "nice": false}}}},
                {"mark": {"type": "rule", "color": "#a6a6a6", "strokeWidth": 1},
                 "encoding": {"x": {"field": "day", "type": "ordinal", "bandPosition": -0.2463}, "y": {"datum": 1, "type": "quantitative", "scale": {"type": "log", "domain": [0.1, 100], "nice": false}}, "y2": {"datum": 0.86}}}
              ]
            }
          ]
        }
      ]
    },
    {
      "width": 917,
      "height": 10,
      "data": {"name": "keys"},
      "mark": {"type": "bar", "width": 34, "stroke": "#555", "strokeWidth": 0.8},
      "encoding": {
        "x": {"field": "series", "type": "nominal",
              "scale": {"type": "band", "domain": ["d0", "d1", "d2", "F1P3", "F2P2", "F4P4", "d6", "d7"], "paddingInner": 0, "paddingOuter": 0.206},
              "axis": {"orient": "top", "offset": 16, "ticks": false, "tickSize": 0, "grid": false,
                       "domainColor": "#000", "domainWidth": 2,
                       "domainDash": [0,35, 3,2,3,2,3,2,3,2,3,2,3,2,3,2,3,2,3,2,3,2, 3,2,3,2,3,2,3,2,3,2,3,2,3,2,3,2,3,2,3,2, 3,2,3,2,3,2,3,2,3,2,3,2,3,2,3,2,3,2,3,2, 3,2,3,2,3,2,3,2,3,2,3,2,3,2,3,2,3,2,3,2, 3,2,3,2,3,2,3,2,3,2,3,2,3,2,3,2,3,2,3,2, 3,2,3,2,3,2,3,2,3,2,3,2,3,2,3,2,3,2,3,2, 3,2,3,2,3,2,3,2,3,2,3,2,3,2,3,2,3,2,3,2, 3,2,3,2,3,2,3,2,3,2,3,2,3,2,3,2,3,2,3,2, 3,2,3,2, 0,94, 3,2,3,2,3,2,3,2,3,2,3,2,3,2,3,2,3,2,3,2, 3,2,3,2,3,2,3,2,3,2,3,2,3,2,3,2,3,2,3,2, 3,2,3,2,3,2,3,2,3,2,3,2,3,2,3,2,3,2,3,2, 3,2,3,2,3,2,3,2,3,2,3,2,3,2,3,2,3,2,3,2, 3,2,3,2,3,2,3,2,3,2,3,2,3,2,3,2,3,2,3,2, 3,2,3,2,3,2,3,2,3,2,3,2,3,2,3,2,3,2,3,2, 3,2,3,2,3,2,3,2,3,2,3,2,3,2,3,2,3,2,3,2, 3,2,3,2,3,2,3,2,3,2,3,2],
                       "labelExpr": "datum.label == 'F1P3' || datum.label == 'F2P2' || datum.label == 'F4P4' ? datum.label : ''",
                       "labelPadding": -21, "labelBaseline": "middle", "labelAlign": "right", "labelOffset": -22,
                       "labelFontSize": 14, "labelFontWeight": "bold", "labelColor": "#000", "labelAngle": 0,
                       "title": "Time (days)", "titleX": 492, "titleY": 0, "titleBaseline": "middle", "titleAlign": "center",
                       "titleFontSize": 15, "titleFontWeight": "bold", "titleColor": "#000"}},
        "fill": {"field": "series", "type": "nominal", "scale": {"domain": ["F1P3", "F2P2", "F4P4"], "range": ["#c4c4c4", "#808080", "#3c3c3c"]}, "legend": null}
      }
    }
  ]
}
